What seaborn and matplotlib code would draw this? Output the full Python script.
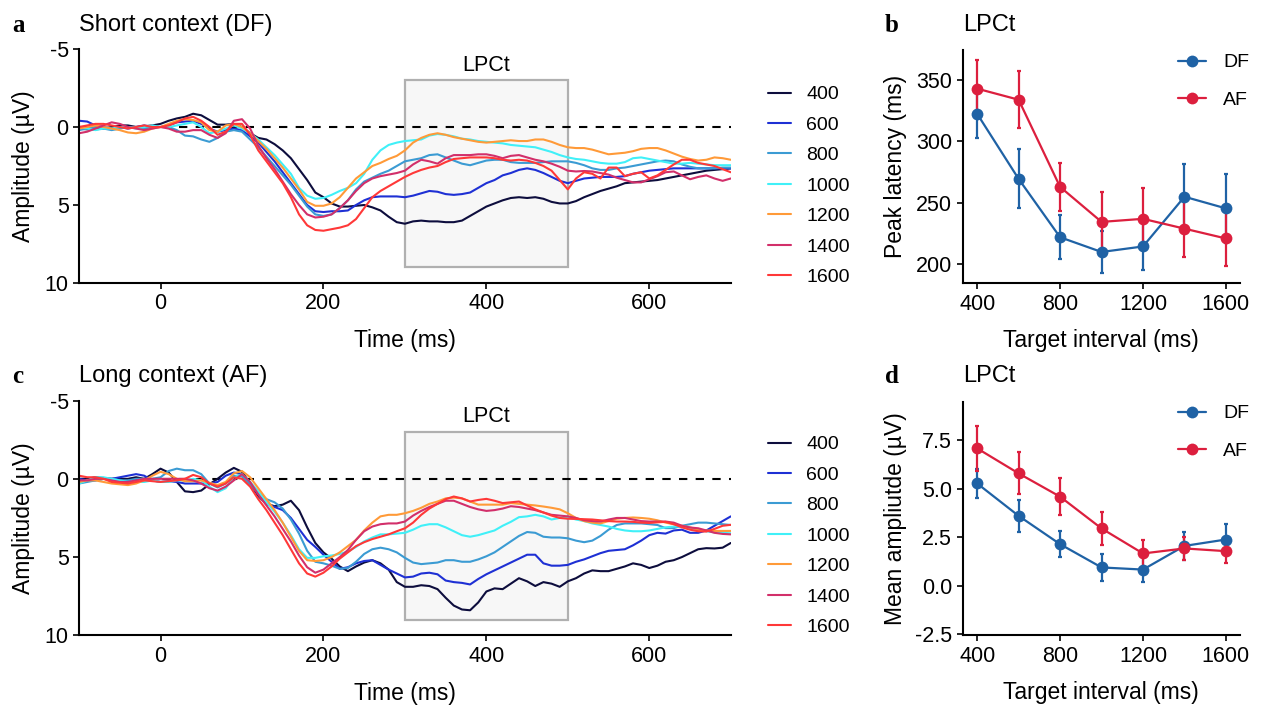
import numpy as np
import pandas as pd
import matplotlib
matplotlib.use('Agg')
import matplotlib.pyplot as plt
from matplotlib.patches import Rectangle
import seaborn as sns

# time axis (ms) and ERP amplitudes (µV)
time_ms = list(range(-100, 701, 10))
intervals = ['400', '600', '800', '1000', '1200', '1400', '1600']

# Short context (DF)
df_400 = [0.1, 0.15, 0.15, 0.1, 0.0, -0.1, -0.1, 0.0, -0.05, -0.1, -0.2, -0.4, -0.55, -0.65, -0.85, -0.75, -0.45, -0.15, -0.15, -0.2,
          0.0, 0.4, 0.7, 0.8, 1.1, 1.5, 2.0, 2.7, 3.4, 4.2, 4.5, 4.9, 5.1, 5.1, 5.05, 5.0, 5.15, 5.35, 5.75, 6.1,
          6.2, 6.05, 6.0, 6.05, 6.05, 6.1, 6.1, 6.0, 5.7, 5.4, 5.1, 4.9, 4.7, 4.55, 4.5, 4.55, 4.5, 4.6, 4.8, 4.9,
          4.9, 4.75, 4.5, 4.3, 4.1, 3.95, 3.8, 3.6, 3.55, 3.5, 3.45, 3.4, 3.3, 3.2, 3.1, 3.0, 2.9, 2.8, 2.75, 2.7, 2.65]
df_600 = [-0.4, -0.35, -0.1, 0.0, 0.1, 0.0, 0.1, 0.0, -0.1, 0.0, 0.0, -0.1, -0.3, -0.35, -0.4, -0.2, 0.1, 0.3, 0.2, 0.1,
          0.2, 0.6, 1.0, 1.6, 2.2, 2.9, 3.6, 4.3, 5.0, 5.4, 5.45, 5.4, 5.4, 5.35, 5.0, 4.7, 4.5, 4.45, 4.45, 4.45,
          4.5, 4.4, 4.25, 4.1, 4.15, 4.3, 4.35, 4.3, 4.2, 3.9, 3.6, 3.4, 3.1, 2.95, 2.75, 2.65, 2.75, 2.95, 3.2, 3.45,
          3.6, 3.45, 3.3, 3.25, 3.2, 3.2, 3.2, 3.15, 3.0, 2.9, 2.8, 2.75, 2.7, 2.65, 2.65, 2.65, 2.65, 2.65, 2.65, 2.65, 2.65]
df_800 = [0.2, 0.1, 0.0, 0.1, 0.2, 0.1, 0.0, 0.0, 0.1, 0.0, 0.0, 0.0, 0.2, 0.55, 0.6, 0.8, 0.95, 0.7, 0.3, 0.2,
          0.3, 0.8, 1.3, 1.9, 2.5, 3.1, 3.7, 4.4, 5.1, 5.6, 5.7, 5.6, 5.2, 4.7, 4.0, 3.5, 3.25, 3.0, 2.8, 2.5,
          2.2, 2.1, 2.0, 1.8, 1.75, 1.95, 2.15, 2.35, 2.45, 2.3, 2.15, 2.1, 2.1, 2.25, 2.3, 2.3, 2.3, 2.25, 2.2, 2.2,
          2.2, 2.3, 2.45, 2.65, 2.75, 2.75, 2.65, 2.6, 2.5, 2.4, 2.3, 2.2, 2.15, 2.2, 2.4, 2.55, 2.65, 2.65, 2.65, 2.6, 2.6]
df_1000 = [0.0, 0.1, 0.2, 0.1, 0.1, 0.0, 0.0, 0.1, 0.0, -0.1, 0.0, 0.0, -0.1, -0.2, -0.3, 0.0, 0.4, 0.3, 0.1, -0.1,
           0.1, 0.4, 0.8, 1.3, 1.8, 2.4, 3.0, 3.9, 4.4, 4.6, 4.55, 4.35, 4.1, 3.9, 3.6, 3.0, 2.1, 1.5, 1.15, 1.0,
           0.9, 0.85, 0.8, 0.55, 0.45, 0.5, 0.6, 0.75, 0.8, 0.9, 0.95, 1.0, 1.05, 1.15, 1.2, 1.25, 1.3, 1.45, 1.6, 1.8,
           1.95, 2.05, 2.1, 2.2, 2.3, 2.35, 2.35, 2.25, 2.0, 1.95, 2.05, 2.15, 2.25, 2.35, 2.35, 2.3, 2.35, 2.4, 2.45, 2.45, 2.45]
df_1200 = [0.1, 0.0, -0.1, 0.0, 0.1, 0.2, 0.35, 0.4, 0.3, 0.1, 0.0, -0.2, -0.4, -0.5, -0.45, -0.3, 0.2, 0.3, -0.1, -0.2,
           0.0, 0.4, 0.9, 1.4, 2.0, 2.6, 3.3, 4.0, 4.8, 5.05, 5.05, 4.9, 4.5, 3.9, 3.3, 2.9, 2.5, 2.3, 2.05, 1.85,
           1.5, 1.0, 0.7, 0.5, 0.4, 0.5, 0.65, 0.75, 0.85, 0.95, 1.0, 0.95, 0.9, 0.85, 0.9, 0.9, 0.8, 0.8, 0.95, 1.15,
           1.3, 1.35, 1.35, 1.45, 1.6, 1.75, 1.7, 1.65, 1.55, 1.4, 1.35, 1.35, 1.5, 1.7, 1.9, 2.05, 2.15, 2.1, 1.95, 2.0, 2.1]
df_1400 = [0.4, 0.3, 0.1, -0.1, -0.3, -0.2, 0.0, 0.1, 0.2, 0.1, 0.0, 0.1, 0.3, 0.3, 0.2, 0.2, 0.5, 0.7, 0.4, -0.4,
           -0.5, 0.1, 1.2, 2.0, 2.7, 3.5, 4.3, 5.0, 5.6, 5.8, 5.75, 5.6, 5.2, 4.7, 4.1, 3.6, 3.3, 3.15, 3.05, 2.95,
           2.8, 2.4, 2.1, 2.2, 2.35, 2.0, 1.8, 1.8, 1.8, 1.75, 1.75, 1.85, 2.0, 1.85, 1.8, 1.95, 2.1, 2.2, 2.35, 2.55,
           2.8, 2.85, 2.82, 2.85, 2.95, 3.05, 3.25, 3.4, 3.55, 3.55, 3.35, 3.15, 2.9, 2.85, 3.1, 3.35, 3.2, 3.1, 3.3, 3.45, 3.3]
df_1600 = [0.0, -0.1, -0.2, -0.2, -0.1, 0.0, 0.1, 0.0, -0.1, 0.0, 0.0, -0.1, -0.3, -0.55, -0.65, -0.4, 0.0, 0.5, 0.3, -0.2,
           -0.2, 0.5, 1.5, 2.2, 2.9, 3.6, 4.5, 5.6, 6.3, 6.6, 6.65, 6.55, 6.45, 6.3, 5.9, 5.2, 4.5, 4.1, 3.8, 3.5,
           3.2, 2.95, 2.75, 2.6, 2.5, 2.25, 2.05, 2.0, 1.95, 1.95, 1.95, 2.0, 2.1, 2.15, 2.1, 2.15, 2.3, 2.5, 2.8, 3.4,
           4.0, 3.3, 2.9, 3.0, 3.3, 2.6, 2.6, 3.15, 3.0, 2.9, 3.3, 3.1, 2.75, 2.4, 2.1, 2.1, 2.3, 2.4, 2.5, 2.7, 2.9]

# Long context (AF)
af_400 = [0.0, 0.0, -0.1, -0.05, 0.0, 0.0, 0.0, -0.1, 0.0, -0.3, -0.65, -0.4, 0.2, 0.8, 0.85, 0.75, 0.35, 0.0, -0.4, -0.7,
          -0.45, 0.3, 1.1, 1.6, 1.75, 1.65, 1.4, 2.0, 3.1, 4.1, 4.7, 5.1, 5.6, 5.9, 5.6, 5.35, 5.2, 5.4, 5.8, 6.6,
          6.9, 6.9, 6.8, 6.85, 7.05, 7.6, 8.1, 8.35, 8.4, 7.9, 7.2, 7.0, 7.05, 6.7, 6.35, 6.55, 6.85, 6.6, 6.7, 6.9,
          6.55, 6.35, 6.05, 5.85, 5.9, 5.9, 5.75, 5.6, 5.4, 5.5, 5.7, 5.55, 5.3, 5.2, 5.0, 4.75, 4.5, 4.43, 4.45, 4.4, 4.1]
af_600 = [0.0, 0.1, 0.1, 0.0, 0.0, -0.1, -0.2, -0.3, -0.2, 0.1, 0.2, 0.15, 0.2, 0.3, 0.3, 0.3, 0.3, 0.2, -0.2, -0.4,
          -0.3, 0.3, 1.0, 1.6, 1.8, 2.0, 2.5, 3.2, 3.9, 4.35, 4.85, 5.3, 5.75, 5.65, 5.4, 5.25, 5.2, 5.5, 5.8, 6.05,
          6.3, 6.25, 6.05, 6.0, 6.1, 6.5, 6.6, 6.65, 6.75, 6.4, 6.1, 5.85, 5.6, 5.35, 5.1, 4.85, 4.85, 5.4, 5.55, 5.55,
          5.5, 5.3, 5.15, 4.95, 4.75, 4.6, 4.55, 4.5, 4.25, 3.95, 3.6, 3.45, 3.5, 3.3, 3.25, 3.45, 3.45, 3.3, 3.0, 2.7, 2.4]
af_800 = [0.3, 0.2, 0.1, 0.0, 0.0, 0.1, 0.1, 0.0, 0.0, 0.0, -0.1, -0.5, -0.65, -0.55, -0.55, -0.3, 0.3, 0.55, 0.3, -0.2,
          -0.15, 0.4, 0.9, 1.3, 1.5, 1.9, 2.6, 3.5, 4.6, 5.3, 5.4, 5.55, 5.75, 5.7, 5.3, 4.8, 4.5, 4.4, 4.5, 4.7,
          5.05, 5.35, 5.45, 5.4, 5.35, 5.2, 5.2, 5.3, 5.3, 5.15, 4.95, 4.7, 4.35, 4.0, 3.65, 3.4, 3.45, 3.7, 3.75, 3.75,
          3.8, 3.95, 4.05, 3.95, 3.65, 3.25, 2.95, 2.85, 2.85, 2.85, 2.9, 2.95, 3.15, 3.15, 3.0, 2.9, 2.8, 2.8, 2.85, 2.9, 2.95]
af_1000 = [0.3, 0.1, -0.1, -0.1, 0.0, 0.1, 0.2, 0.2, 0.2, 0.1, 0.2, 0.2, 0.1, 0.1, 0.0, 0.1, 0.5, 0.85, 0.6, -0.1,
           -0.3, 0.2, 0.8, 1.5, 2.1, 2.8, 3.6, 4.5, 5.05, 5.05, 4.95, 4.9, 4.8, 4.65, 4.35, 4.0, 3.75, 3.55, 3.55, 3.5,
           3.45, 3.25, 3.0, 2.9, 2.9, 3.1, 3.35, 3.6, 3.7, 3.6, 3.45, 3.3, 3.0, 2.75, 2.45, 2.4, 2.3, 2.4, 2.6, 2.5,
           2.45, 2.6, 2.7, 2.85, 2.95, 3.05, 3.2, 3.3, 3.35, 3.35, 3.3, 3.2, 3.1, 3.05, 3.05, 3.15, 3.25, 3.35, 3.42, 3.45, 3.48]
af_1200 = [0.2, 0.1, 0.1, 0.2, 0.3, 0.35, 0.4, 0.3, 0.1, -0.2, -0.45, -0.3, 0.0, 0.15, 0.15, 0.1, 0.25, 0.4, 0.2, -0.35,
           -0.5, -0.1, 0.6, 1.3, 2.0, 2.8, 3.7, 4.6, 5.2, 5.25, 5.2, 5.0, 4.7, 4.3, 3.9, 3.3, 2.8, 2.4, 2.3, 2.3,
           2.2, 2.05, 1.85, 1.6, 1.45, 1.25, 1.2, 1.25, 1.45, 1.65, 1.65, 1.65, 1.65, 1.55, 1.6, 1.65, 1.7, 1.77, 1.85, 1.95,
           2.2, 2.5, 2.7, 2.8, 2.85, 2.7, 2.55, 2.5, 2.47, 2.5, 2.55, 2.65, 2.8, 2.9, 3.0, 3.1, 3.25, 3.3, 3.33, 3.33, 3.33]
af_1400 = [0.1, 0.1, 0.0, 0.0, 0.1, 0.2, 0.2, 0.1, 0.0, 0.0, 0.0, 0.0, 0.0, 0.0, 0.1, 0.3, 0.6, 0.75, 0.5, 0.1,
           -0.3, 0.2, 1.0, 1.7, 2.4, 3.2, 4.0, 4.9, 5.65, 6.0, 5.8, 5.4, 5.0, 4.55, 3.9, 3.35, 3.05, 2.9, 2.85, 2.85,
           2.73, 2.35, 2.05, 1.8, 1.6, 1.4, 1.4, 1.6, 1.8, 1.95, 2.05, 2.0, 1.9, 1.75, 1.8, 1.9, 2.0, 2.15, 2.3, 2.35,
           2.4, 2.5, 2.65, 2.7, 2.73, 2.6, 2.5, 2.5, 2.6, 2.7, 2.73, 2.73, 2.73, 2.8, 3.0, 3.11, 3.16, 3.3, 3.45, 3.52, 3.55]
af_1600 = [-0.2, -0.1, -0.1, 0.0, 0.2, 0.25, 0.3, 0.2, 0.1, 0.15, 0.2, 0.15, 0.1, 0.0, -0.25, -0.1, 0.3, 0.5, 0.3, -0.1,
           0.0, 0.5, 1.3, 2.0, 2.8, 3.6, 4.5, 5.4, 6.05, 6.25, 6.0, 5.6, 5.1, 4.7, 4.3, 4.05, 3.85, 3.7, 3.55, 3.35,
           3.16, 2.8, 2.3, 1.9, 1.6, 1.3, 1.13, 1.25, 1.45, 1.35, 1.28, 1.4, 1.55, 1.5, 1.45, 1.7, 1.95, 2.15, 2.35, 2.5,
           2.55, 2.56, 2.58, 2.6, 2.65, 2.7, 2.73, 2.73, 2.75, 2.8, 2.82, 2.78, 2.75, 2.9, 3.1, 3.25, 3.35, 3.37, 3.2, 3.0, 2.94]

# LPCt summary (mean +/- error) per target interval
target_interval = [400, 600, 800, 1000, 1200, 1400, 1600]
lat_df = [322.5, 269.5, 222, 210, 214.5, 255, 245.5]
lat_df_err = [20, 24, 18, 17, 19.5, 27, 28]
lat_af = [343, 334, 263, 234.5, 237, 229, 221]
lat_af_err = [23.5, 23, 19.5, 24, 25, 23, 22.5]
amp_df = [5.28, 3.61, 2.15, 0.95, 0.84, 2.06, 2.39]
amp_df_err = [0.77, 0.83, 0.67, 0.7, 0.65, 0.74, 0.8]
amp_af = [7.09, 5.8, 4.6, 2.96, 1.67, 1.93, 1.79]
amp_af_err = [1.17, 1.08, 0.96, 0.83, 0.72, 0.6, 0.63]

erp_colors = ['#0d0d3d', '#1e30d4', '#3b9bd3', '#40f0f8', '#ff9a38', '#d22f6a', '#ff3838']
c_df = '#1f62a5'
c_af = '#dc1f3e'

sns.set_theme(style='ticks')
plt.rcParams['font.family'] = ['Liberation Sans', 'DejaVu Sans']
plt.rcParams['axes.unicode_minus'] = False
plt.rcParams['axes.linewidth'] = 1.5
plt.rcParams['xtick.major.width'] = 1.2
plt.rcParams['ytick.major.width'] = 1.2
plt.rcParams['xtick.major.size'] = 4
plt.rcParams['ytick.major.size'] = 4
plt.rcParams['xtick.color'] = 'black'
plt.rcParams['ytick.color'] = 'black'
plt.rcParams['axes.edgecolor'] = 'black'
plt.rcParams['text.color'] = 'black'
plt.rcParams['axes.labelcolor'] = 'black'

fs_tick = 15.5
fs_lab = 16.5
fs_leg = 14
fs_title = 17

fig = plt.figure(figsize=(12.63, 7.07), dpi=100)
ax_a = fig.add_axes([0.0626, 0.5997, 0.516, 0.331])
ax_c = fig.add_axes([0.0626, 0.1014, 0.516, 0.332])
ax_b = fig.add_axes([0.7622, 0.5993, 0.2196, 0.330])
ax_d = fig.add_axes([0.7622, 0.1014, 0.2196, 0.3305])

title_y = {'a': 25, 'b': 25, 'c': 376, 'd': 376}


def panel_letter(letter, xpix, text):
    y = 1 - title_y[letter] / 707
    fig.text(xpix / 1263, y, letter, fontsize=18, fontweight='bold',
             family='Liberation Serif', va='center', ha='left')
    fig.text((xpix + 67) / 1263 if letter in 'ac' else 963 / 1263, y, text, fontsize=fs_title, va='center', ha='left')


def erp_panel(ax, series, letter, title, ypix_legend):
    long = pd.DataFrame({
        'time': np.tile(time_ms, len(intervals)),
        'amp': np.concatenate(series),
        'interval': np.repeat(intervals, len(time_ms)),
    })
    ax.add_patch(Rectangle((300, -3), 200, 12, facecolor='#f7f7f7', edgecolor='#b0b0b0', lw=1.6, zorder=0))
    ax.text(400, -3.3, 'LPCt', ha='center', va='bottom', fontsize=fs_tick)
    ax.plot([-100, 700], [0, 0], color='black', ls=(0, (4, 4)), lw=1.5, zorder=1)
    sns.lineplot(data=long, x='time', y='amp', hue='interval', hue_order=intervals,
                 palette=dict(zip(intervals, erp_colors)), lw=1.5, ax=ax, legend=True, zorder=2)
    ax.set_xlim(-100, 700)
    ax.set_ylim(10, -5)
    ax.set_xticks([0, 200, 400, 600])
    ax.set_yticks([-5, 0, 5, 10])
    ax.tick_params(labelsize=fs_tick)
    ax.set_xlabel('Time (ms)', fontsize=fs_lab)
    ax.set_ylabel('Amplitude (µV)', fontsize=fs_lab)
    ax.xaxis.set_label_coords(0.5, -0.197)
    ax.yaxis.set_label_coords(-0.0675, 0.5)
    sns.despine(ax=ax)
    h, l = ax.get_legend_handles_labels()
    ax.legend(h, l, loc='upper left', bbox_to_anchor=(0.6005, 1 - ypix_legend / 707),
              bbox_transform=fig.transFigure, frameon=False, fontsize=fs_leg,
              handlelength=1.2, handletextpad=0.75, labelspacing=0.66, borderpad=0)
    panel_letter(letter, 12, title)


erp_panel(ax_a, [df_400, df_600, df_800, df_1000, df_1200, df_1400, df_1600], 'a', 'Short context (DF)', 76)
erp_panel(ax_c, [af_400, af_600, af_800, af_1000, af_1200, af_1400, af_1600], 'c', 'Long context (AF)', 426)


def summary_panel(ax, ydf, edf, yaf, eaf, letter, ylabel, ylim, yticks, fmt, leg_top):
    summ = pd.DataFrame({
        'interval': target_interval * 2,
        'value': ydf + yaf,
        'group': ['DF'] * 7 + ['AF'] * 7,
    })
    ax.errorbar(target_interval, ydf, yerr=edf, fmt='none', ecolor=c_df, elinewidth=1.6, capsize=1.5, capthick=1.6, zorder=2)
    ax.errorbar(target_interval, yaf, yerr=eaf, fmt='none', ecolor=c_af, elinewidth=1.6, capsize=1.5, capthick=1.6, zorder=2)
    sns.lineplot(data=summ, x='interval', y='value', hue='group', hue_order=['DF', 'AF'],
                 palette={'DF': c_df, 'AF': c_af}, marker='o', markersize=8.5, markeredgewidth=0,
                 lw=1.6, ax=ax, zorder=3)
    ax.set_xlim(330, 1668)
    ax.set_ylim(*ylim)
    ax.set_xticks([400, 800, 1200, 1600])
    ax.set_yticks(yticks)
    ax.set_yticklabels([fmt.format(v) for v in yticks])
    ax.tick_params(labelsize=fs_tick)
    ax.set_xlabel('Target interval (ms)', fontsize=fs_lab)
    ax.set_ylabel(ylabel, fontsize=fs_lab)
    ax.xaxis.set_label_coords(0.5, -0.197)
    ax.yaxis.set_label_coords(-0.201, 0.5)
    sns.despine(ax=ax)
    h, l = ax.get_legend_handles_labels()
    ax.legend(h, l, loc='upper right', bbox_to_anchor=(1259 / 1263, 1 - leg_top / 707),
              bbox_transform=fig.transFigure, frameon=False, fontsize=fs_leg,
              handlelength=1.45, handletextpad=0.9, labelspacing=1.02, borderpad=0)
    panel_letter(letter, 885, 'LPCt')


summary_panel(ax_b, lat_df, lat_df_err, lat_af, lat_af_err, 'b', 'Peak latency (ms)',
              (184.5, 374.5), [200, 250, 300, 350], '{:.0f}', 44)
summary_panel(ax_d, amp_df, amp_df_err, amp_af, amp_af_err, 'd', 'Mean ampliutde (µV)',
              (-2.55, 9.5), [-2.5, 0.0, 2.5, 5.0, 7.5], '{:.1f}', 395)

fig.savefig('out.png', dpi=100)
